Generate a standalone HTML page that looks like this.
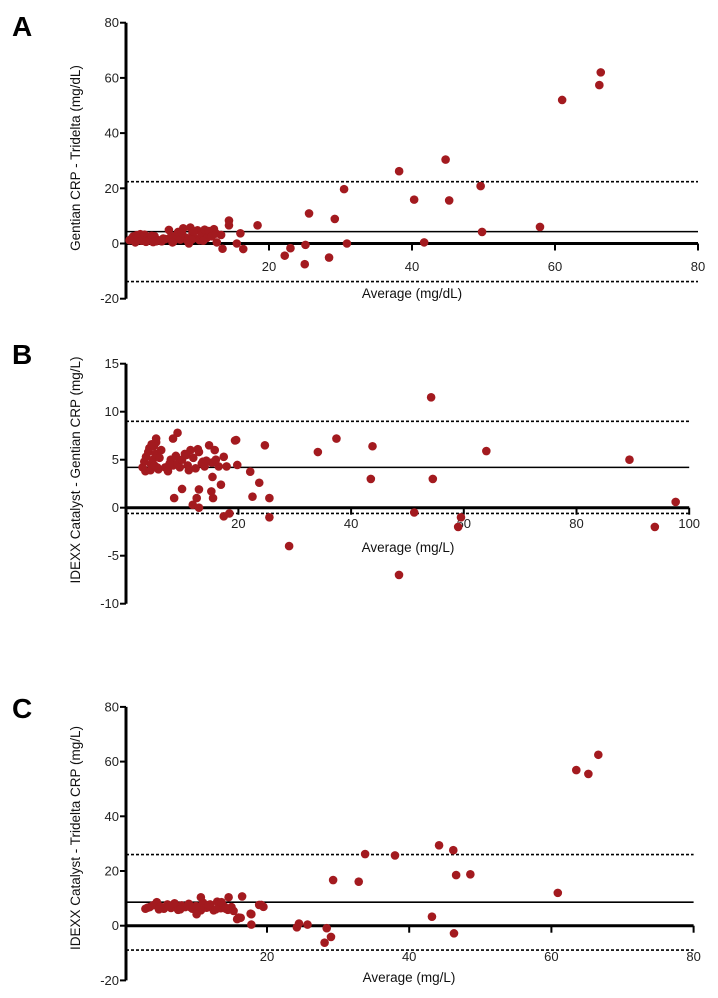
<!DOCTYPE html>
<html><head><meta charset="utf-8"><style>
body{margin:0;background:#fff;}
svg{display:block;font-family:"Liberation Sans",Arial,sans-serif;}
</style></head><body>
<svg id="fig" width="718" height="998"></svg>
<script>
// Panel A data
const aX=[0.5,0.8,1,1.2,1.5,1.7,2,2.2,2.4,2.6,3,3.3,3.6,4,4.5,5,5.5,6,6.3,6.6,7,7.3,7.6,8,8.3,8.6,9,9.3,9.6,10,10.3,10.6,11,11.3,11.6,12,12.3,12.6,1.3,2.8,4.2,6.5,7.8,9.2,10.8,3.8,5.2,8.8,9.4,12.7,13.3,13.5,14.4,14.4,15.5,16.0,16.4,18.4,22.2,23.0,25.0,25.1,25.6,28.4,29.2,30.5,30.9,38.2,40.3,41.7,44.7,45.2,49.6,49.8,57.9,61.0,66.2,66.4];
const aY=[1.2,1.8,2.5,1.5,3.0,2.2,3.4,1.0,2.6,3.2,2.0,1.5,2.8,2.6,1.2,0.8,1.6,4.9,2.5,0.6,3.0,4.2,1.4,5.5,2.2,1.0,5.8,3.6,2.0,4.8,1.2,3.2,5.0,2.0,4.5,2.6,5.2,3.6,0.4,0.6,0.8,0.4,3.8,1.4,1.0,0.5,1.8,0,4.4,0.4,3.1,-1.9,8.3,6.6,0,3.7,-2.0,6.6,-4.4,-1.7,-7.5,-0.5,10.9,-5.1,8.9,19.7,0,26.2,15.9,0.4,30.4,15.6,20.8,4.2,6.0,52.0,57.4,62.0];
const aTicksY=[-20,0,20,40,60,80];
const aTicksX=[20,40,60,80];
const aLines=[4.3,22.4,-13.8];
// Panel B data
const bX=[3,3.3,3.6,4,4.2,4.5,4.8,5,5.3,5.6,6,6.3,3.5,4.4,5.1,5.8,4.6,5.4,7,7.5,8,8.4,9.2,8.9,9.6,10,10.5,11,11.5,12,12.4,13,13.5,14,14.8,15.3,16,16.5,17.4,11.2,12.8,13.7,7.8,10.8,14.3,15.8,17.9,19.8,19.6,19.4,16.9,15.5,15.2,15.4,13,13,11.9,12.6,10,8.6,17.4,18.4,22.1,23.7,22.5,25.5,25.5,24.7,34.1,37.4,43.8,43.5,54.5,54.2,64.0,89.4,97.6,51.2,59.5,59.0,93.9,29.0,48.5,5.4,9.2,8.4];
const bY=[4.2,4.8,5.3,5.8,6.2,4.5,5.0,6.4,5.6,4.2,5.2,6.0,3.8,3.9,4.4,4.0,6.6,6.8,4.2,3.8,5.0,4.4,4.6,5.4,4.2,5.0,5.6,4.4,6.0,5.2,4.1,5.8,4.6,4.3,6.5,4.7,5.0,4.3,5.3,3.9,6.1,4.8,4.6,5.5,4.9,6.0,4.3,4.45,7.05,7.0,2.4,1.0,1.7,3.2,1.9,0,0.3,1.0,1.95,1.0,-0.9,-0.6,3.75,2.6,1.15,1.0,-1.0,6.5,5.8,7.2,6.4,3.0,3.0,11.5,5.9,5.0,0.6,-0.5,-1.0,-2.0,-2.0,-4.0,-7.0,7.2,7.8,7.2];
const bTicksY=[-10,-5,0,5,10,15];
const bTicksX=[20,40,60,80,100];
const bLines=[4.2,9.0,-0.6];
// Panel C data
const cX=[2.9,3.5,4,4.5,5,5.5,6,6.5,7,7.5,8,8.5,9,9.5,10,10.5,11,11.5,12,12.5,13,13.5,14,14.5,15,3.2,4.8,6.2,7.8,9.2,10.7,11.8,12.8,13.6,14.2,10.7,14.6,16.5,17.8,17.8,15.8,15.3,19.2,18.9,19.5,10.1,10.1,16.0,16.3,17.7,24.2,24.5,25.7,28.4,29.0,28.1,29.3,32.9,33.8,38.0,43.2,44.2,46.2,46.3,46.6,48.6,60.9,63.5,65.2,66.6];
const cY=[6.2,6.8,7.5,8.6,7.0,6.2,7.8,6.5,8.2,5.8,7.4,6.8,8.0,6.2,7.2,5.8,8.4,6.6,7.8,5.6,8.8,6.4,7.0,5.8,6.8,6.6,6.0,7.2,6.0,6.8,5.6,7.6,6.0,8.6,6.2,10.4,10.4,10.7,4.2,0.4,2.4,5.4,7.6,7.6,6.9,7.0,4.2,3.0,2.9,4.4,-0.6,0.8,0.4,-0.9,-4.1,-6.2,16.7,16.1,26.2,25.7,3.3,29.4,27.6,-2.8,18.5,18.8,12.0,56.9,55.5,62.5];
const cTicksY=[-20,0,20,40,60,80];
const cTicksX=[20,40,60,80];
const cLines=[8.6,26.0,-8.9];

const NS="http://www.w3.org/2000/svg";
const svg=document.getElementById('fig');
function mk(tag,attrs,parent){const e=document.createElementNS(NS,tag);for(const k in attrs)e.setAttribute(k,attrs[k]);(parent||svg).appendChild(e);return e;}

function panel(cfg){
  const g=mk('g',{});
  
  
  const sx=v=>cfg.x0+(v)*cfg.kx;
  const sy=v=>cfg.y0-(v)*cfg.ky;
  const t=mk('text',{x:12,y:cfg.letterY,'font-size':28,'font-weight':'bold',fill:'#000'},g);t.textContent=cfg.id;
  
  
  // lines
  const xe=sx(cfg.xmax);
  const styles=[{'stroke-width':1.6},{'stroke-width':1.6,'stroke-dasharray':'3,2'},{'stroke-width':1.6,'stroke-dasharray':'3,2'}];
  const lnames=['mean-bias-line','upper-limit-line','lower-limit-line'];
  cfg.lines.forEach((v,i)=>{const l=mk('line',Object.assign({x1:cfg.axX,x2:xe,y1:sy(v),y2:sy(v),stroke:'#000'},styles[i]),g);
    
    });
  // y axis
  const ya=mk('line',{x1:cfg.axX,x2:cfg.axX,y1:sy(cfg.ticksY[cfg.ticksY.length-1]),y2:sy(cfg.ticksY[0]),stroke:'#000','stroke-width':3},g);
  
  
  cfg.ticksY.forEach(v=>{mk('line',{x1:cfg.axX-6,x2:cfg.axX,y1:sy(v),y2:sy(v),stroke:'#000','stroke-width':2},g);
    const tx=mk('text',{x:cfg.axX-7,y:sy(v)+4.5,'font-size':13,'text-anchor':'end',fill:'#222'},g);tx.textContent=v;
    
    });
  // x axis at zero
  const xa=mk('line',{x1:cfg.axX,x2:xe,y1:sy(0),y2:sy(0),stroke:'#000','stroke-width':3},g);
  
  
  cfg.ticksX.forEach(v=>{mk('line',{x1:sx(v),x2:sx(v),y1:sy(0),y2:sy(0)+7,stroke:'#000','stroke-width':2},g);
    const tx=mk('text',{x:sx(v),y:cfg.xTickY,'font-size':13,'text-anchor':'middle',fill:'#222'},g);tx.textContent=v;
    
    });
  const xt=mk('text',{x:cfg.xTitleX,y:cfg.xTitleY,'font-size':13.5,'text-anchor':'middle',fill:'#111'},g);xt.textContent=cfg.xTitle;
  
  
  const yt=mk('text',{x:0,y:0,'font-size':13.5,'text-anchor':'middle',fill:'#111',transform:'translate(80,'+cfg.yTitleY+') rotate(-90)'},g);yt.textContent=cfg.yTitle;
  
  
  cfg.xs.forEach((v,i)=>{const c=mk('circle',{cx:sx(v),cy:sy(cfg.ys[i]),r:4.3,fill:'#a31a1f'},g);
    
    });
}
panel({id:'A',letterY:36,x0:126,kx:7.15,y0:243.5,ky:2.76,axX:126,xmax:80,ticksY:aTicksY,ticksX:aTicksX,lines:aLines,xs:aX,ys:aY,xTickY:271,xTitle:'Average (mg/dL)',xTitleX:412,xTitleY:298,yTitle:'Gentian CRP - Tridelta (mg/dL)',yTitleY:158});
panel({id:'B',letterY:364,x0:125.7,kx:5.635,y0:507.7,ky:9.6,axX:126,xmax:100,ticksY:bTicksY,ticksX:bTicksX,lines:bLines,xs:bX,ys:bY,xTickY:528,xTitle:'Average (mg/L)',xTitleX:408,xTitleY:552,yTitle:'IDEXX Catalyst - Gentian CRP (mg/L)',yTitleY:470});
panel({id:'C',letterY:718,x0:124.8,kx:7.11,y0:925.7,ky:2.735,axX:126,xmax:80,ticksY:cTicksY,ticksX:cTicksX,lines:cLines,xs:cX,ys:cY,xTickY:961,xTitle:'Average (mg/L)',xTitleX:409,xTitleY:982,yTitle:'IDEXX Catalyst - Tridelta CRP (mg/L)',yTitleY:838});
</script>
</body></html>
